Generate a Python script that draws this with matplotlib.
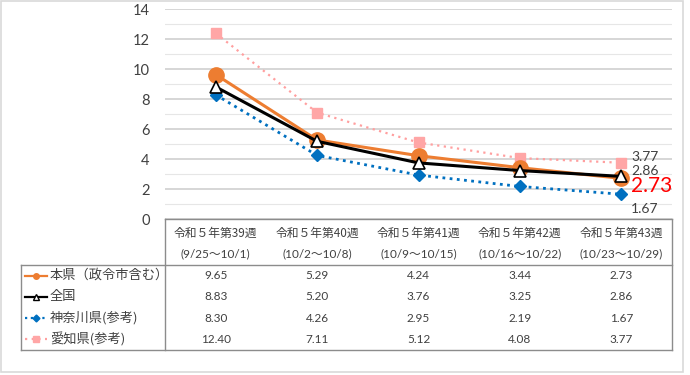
import matplotlib
matplotlib.use("Agg")
import matplotlib.pyplot as plt
from matplotlib.lines import Line2D
from matplotlib.patches import Rectangle

plt.rcParams['font.family'] = ['Noto Sans CJK JP', 'DejaVu Sans']

weeks = ["令和５年第39週", "令和５年第40週", "令和５年第41週", "令和５年第42週", "令和５年第43週"]
periods = ["(9/25～10/1)", "(10/2～10/8)", "(10/9～10/15)", "(10/16～10/22)", "(10/23～10/29)"]

series_names = ["本県（政令市含む）", "全国", "神奈川県(参考)", "愛知県(参考)"]
honken = [9.65, 5.29, 4.24, 3.44, 2.73]
zenkoku = [8.83, 5.20, 3.76, 3.25, 2.86]
kanagawa = [8.30, 4.26, 2.95, 2.19, 1.67]
aichi = [12.40, 7.11, 5.12, 4.08, 3.77]
yticks = [0, 2, 4, 6, 8, 10, 12, 14]

W, H = 690, 375
fig = plt.figure(figsize=(W / 100, H / 100), dpi=100)

def fx(x):
    return x / W

def fy(y):
    return 1 - y / H

# plot area in pixels
L, R, T, B = 165, 672, 9.3, 219.3
ax = fig.add_axes([fx(L), fy(B), fx(R - L), (B - T) / H])
x = list(range(len(weeks)))
ax.set_xlim(-0.5, len(weeks) - 0.5)
ax.set_ylim(0, 14)
for s in ax.spines.values():
    s.set_visible(False)
ax.set_xticks([])
ax.set_yticks(yticks)
ax.set_yticks(range(1, 14, 2), minor=True)
ax.tick_params(axis='y', which='both', length=0, pad=11, labelsize=10.5, labelcolor='#404040')
for lab in ax.get_yticklabels():
    lab.set_fontfamily(['Lato', 'DejaVu Sans'])
ax.grid(axis='y', which='major', color='#D0D0D0', lw=1.2)
ax.grid(axis='y', which='minor', color='#E6E6E6', lw=0.8)
ax.set_axisbelow(True)

styles = {
    "aichi": dict(color='#FF9F9F', ls=(0, (1, 2)), lw=1.6, marker='s', ms=7.5,
                  mfc='#FFA6A6', mec='#FFA6A6'),
    "kanagawa": dict(color='#0070C0', ls=(0, (1, 1.6)), lw=2.0, marker='D', ms=6,
                     mfc='#0070C0', mec='#0070C0'),
    "honken": dict(color='#ED7D31', ls='-', lw=2.2, marker='o', ms=11,
                   mfc='#ED7D31', mec='#ED7D31'),
    "zenkoku": dict(color='black', ls='-', lw=2.2, marker='^', ms=9,
                    mfc='white', mec='black', mew=1.2),
}

ax.plot(x, aichi, **styles["aichi"], zorder=3, clip_on=False)
ax.plot(x, kanagawa, **styles["kanagawa"], zorder=3, clip_on=False)
ax.plot(x, honken, **styles["honken"], zorder=4, clip_on=False)
ax.plot(x, zenkoku, **styles["zenkoku"], zorder=5, clip_on=False)

lab_font = ['Lato', 'DejaVu Sans']
last = len(weeks) - 1
ax.annotate(f"{aichi[-1]:.2f}", (last, aichi[-1]), xytext=(10, 6), textcoords='offset pixels',
            ha='left', va='center', fontsize=10, color='#404040', family=lab_font)
ax.annotate(f"{zenkoku[-1]:.2f}", (last, zenkoku[-1]), xytext=(10, 5), textcoords='offset pixels',
            ha='left', va='center', fontsize=10, color='#404040', family=lab_font)
ax.annotate(f"{honken[-1]:.2f}", (last, honken[-1]), xytext=(10, -8), textcoords='offset pixels',
            ha='left', va='center', fontsize=15, color='#FF0000', family=lab_font)
ax.annotate(f"{kanagawa[-1]:.2f}", (last, kanagawa[-1]), xytext=(10, -15), textcoords='offset pixels',
            ha='left', va='center', fontsize=10, color='#404040', family=lab_font)

# ---- data table ----
tc = '#8C8C8C'
def hline(x0, x1, y):
    fig.add_artist(Line2D([fx(x0), fx(x1)], [fy(y), fy(y)], color=tc, lw=1.0))

def vline(x, y0, y1):
    fig.add_artist(Line2D([fx(x), fx(x)], [fy(y0), fy(y1)], color=tc, lw=1.0))

row_sep = 265
tbl_bot = 350
leg_left = 21
hline(L, R, B)
hline(leg_left, R, row_sep)
hline(leg_left, R, tbl_bot)
vline(L, B, tbl_bot)
vline(R, B, tbl_bot)
vline(leg_left, row_sep, tbl_bot)

colw = (R - L) / len(weeks)
num_font = ['Lato', 'Noto Sans CJK JP']
for i, (wk, pr) in enumerate(zip(weeks, periods)):
    cx = L + colw * (i + 0.5)
    fig.text(fx(cx), fy(233), wk, ha='center', va='center', fontsize=8.5, color='#404040',
             family=['Noto Sans CJK JP', 'DejaVu Sans'])
    fig.text(fx(cx), fy(254), pr, ha='center', va='center', fontsize=8.5, color='#404040',
             family=num_font)

rows = [honken, zenkoku, kanagawa, aichi]
keys = ["honken", "zenkoku", "kanagawa", "aichi"]
row_h = (tbl_bot - row_sep) / 4
for r, (vals, name, key) in enumerate(zip(rows, series_names, keys)):
    cy = row_sep + row_h * (r + 0.5)
    for i, v in enumerate(vals):
        cx = L + colw * (i + 0.5)
        fig.text(fx(cx), fy(cy), f"{v:.2f}", ha='center', va='center', fontsize=8.5,
                 color='#404040', family=num_font)
    st = dict(styles[key])
    st['ms'] = {'honken': 4, 'zenkoku': 4, 'kanagawa': 3.5, 'aichi': 5}[key]
    st['lw'] = min(st['lw'], 1.6)
    fig.add_artist(Line2D([fx(25), fx(47)], [fy(cy), fy(cy)], ls=st['ls'], lw=st['lw'],
                          color=st['color']))
    fig.add_artist(Line2D([fx(36)], [fy(cy)], ls='none', marker=st['marker'], ms=st['ms'],
                          mfc=st['mfc'], mec=st['mec']))
    fig.text(fx(50), fy(cy), name, ha='left', va='center', fontsize=9.5, color='#404040',
             family=['Noto Sans CJK JP', 'DejaVu Sans'])

# chart border
fig.add_artist(Rectangle((fx(1), fy(372)), fx(682), (371) / H, fill=False,
                         ec='#D9D9D9', lw=1.2))

fig.savefig("out.png", dpi=100)
